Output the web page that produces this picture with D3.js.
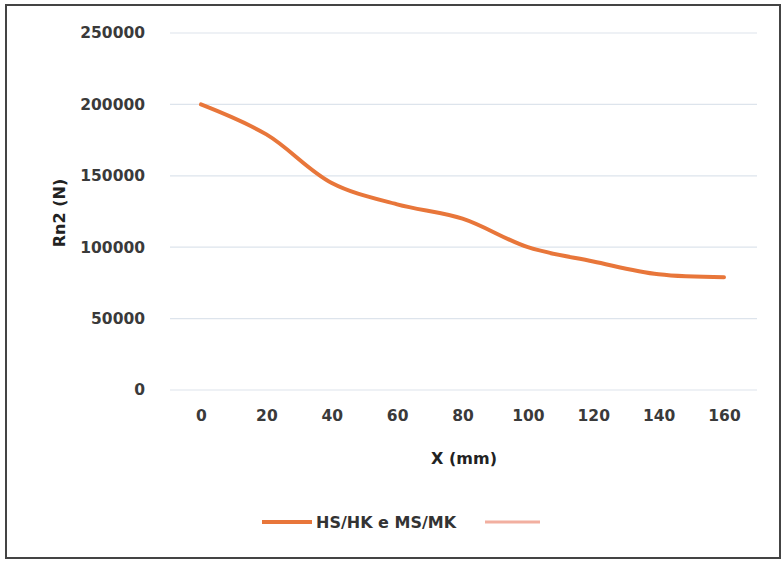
<!DOCTYPE html>
<html><head><meta charset="utf-8">
<script src="https://cdn.jsdelivr.net/npm/d3@7"></script>
<style>body{margin:0;background:#fff;}svg{display:block;}</style>
</head><body>
<script>
const xValues = [0, 20, 40, 60, 80, 100, 120, 140, 160];
const rn2Values = [200000, 179000, 145000, 130000, 120000, 100000, 90000, 81000, 79000];
const yTicks = [0, 50000, 100000, 150000, 200000, 250000];
const seriesName = "HS/HK e MS/MK";
const xTitle = "X (mm)";
const yTitle = "Rn2 (N)";

const W = 781, H = 561;
const svg = d3.select("body").append("svg").attr("width", W).attr("height", H);
svg.append("rect").attr("x",0).attr("y",0).attr("width",W).attr("height",H).attr("fill","#fff");
svg.append("rect").attr("x",6).attr("y",5).attr("width",774).attr("height",553)
  .attr("fill","none").attr("stroke","#444").attr("stroke-width",2);

const x = d3.scalePoint().domain(xValues).range([201, 724]);
const y = d3.scaleLinear().domain([0, 250000]).range([390, 33]);
const font = "'DejaVu Sans', sans-serif";

// gridlines
svg.append("g").selectAll("line").data(yTicks).join("line")
  .attr("x1",170).attr("x2",757)
  .attr("y1",d=>y(d)).attr("y2",d=>y(d))
  .attr("stroke","#dde4ec").attr("stroke-width",1.2);

// y axis
const ya = svg.append("g").attr("transform","translate(170,0)")
  .call(d3.axisLeft(y).tickValues(yTicks).tickSize(0).tickPadding(25).tickFormat(d3.format("d")));
ya.select(".domain").remove();
ya.selectAll("text").attr("font-family",font).attr("font-size",15.5).attr("font-weight",700).attr("fill","#3a3a3a");

// x axis
const xa = svg.append("g").attr("transform","translate(0,390)")
  .call(d3.axisBottom(x).tickSize(0).tickPadding(20));
xa.select(".domain").remove();
xa.selectAll("text").attr("font-family",font).attr("font-size",15.5).attr("font-weight",700).attr("fill","#3a3a3a");

// titles
svg.append("text").attr("x",464).attr("y",464).attr("text-anchor","middle")
  .attr("font-family",font).attr("font-size",16).attr("font-weight",700).attr("fill","#222").text(xTitle);
svg.append("text").attr("transform","translate(65,213) rotate(-90)").attr("text-anchor","middle")
  .attr("font-family",font).attr("font-size",16).attr("font-weight",700).attr("fill","#222").text(yTitle);

// line
const line = d3.line().x((d,i)=>x(xValues[i])).y(d=>y(d)).curve(d3.curveCatmullRom.alpha(0.5));
svg.append("path").datum(rn2Values).attr("d",line)
  .attr("fill","none").attr("stroke","#E8763A").attr("stroke-width",4).attr("stroke-linecap","round");

// legend
svg.append("line").attr("x1",262).attr("x2",312).attr("y1",522).attr("y2",522)
  .attr("stroke","#E8763A").attr("stroke-width",4);
svg.append("text").attr("x",316).attr("y",528).attr("font-family",font).attr("font-size",16)
  .attr("font-weight",700).attr("fill","#333").text(seriesName);
svg.append("line").attr("x1",485).attr("x2",540).attr("y1",522).attr("y2",522)
  .attr("stroke","#F2AFA0").attr("stroke-width",3);
</script>
</body></html>
